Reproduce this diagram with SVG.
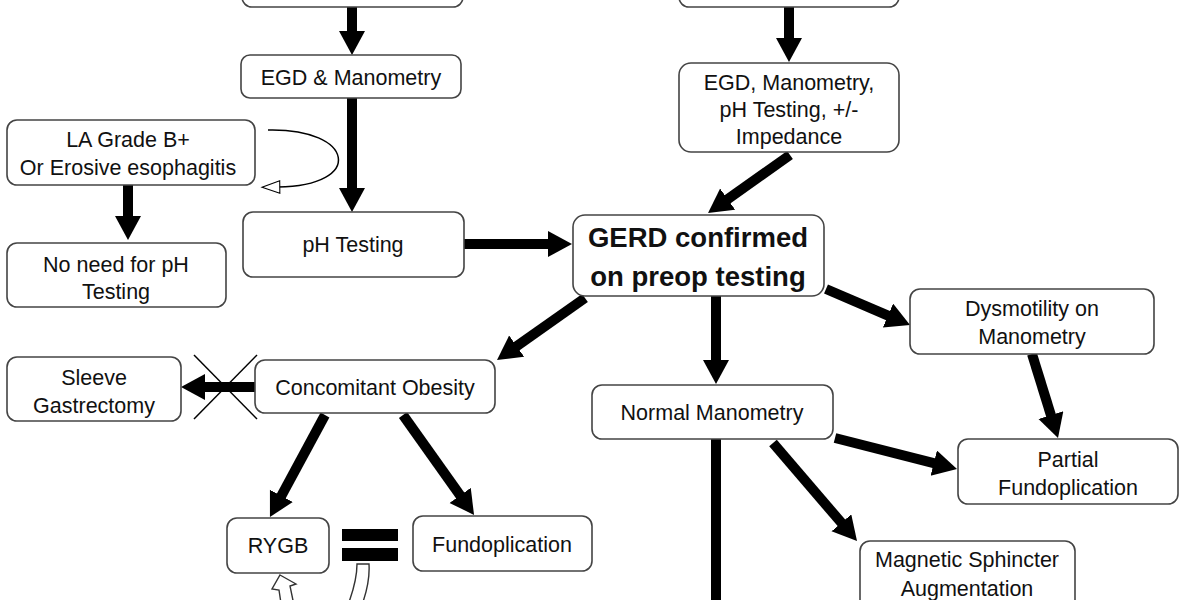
<svg xmlns="http://www.w3.org/2000/svg" width="1200" height="600" viewBox="0 0 1200 600">
<style>
.box{fill:#fff;stroke:#444;stroke-width:1.6}
.t{font-family:"Liberation Sans",Arial,sans-serif;font-size:21.5px;fill:#111;text-anchor:middle}
.b{font-family:"Liberation Sans",Arial,sans-serif;font-size:27.5px;font-weight:bold;fill:#111;text-anchor:middle}
.c{stroke:#000;stroke-width:10;fill:none}
.thin{stroke:#000;stroke-width:1.5;fill:none}
</style>
<defs>
<marker id="ah" markerUnits="userSpaceOnUse" markerWidth="26" markerHeight="28" refX="2" refY="13" orient="auto" viewBox="0 0 26 28">
<path d="M0,0 L24,13 L0,26 z" fill="#000"/>
</marker>
<marker id="oh" markerUnits="userSpaceOnUse" markerWidth="24" markerHeight="16" refX="2" refY="7" orient="auto" viewBox="-2 -2 24 18">
<path d="M0,0 L20,7 L0,14 z" fill="#fff" stroke="#000" stroke-width="1.2"/>
</marker>
</defs>
<rect width="1200" height="600" fill="#fff"/>
<g id="connectors">
<line class="c" x1="352" y1="5" x2="352" y2="33" marker-end="url(#ah)"/>
<line class="c" x1="789" y1="5" x2="789" y2="40" marker-end="url(#ah)"/>
<line class="c" x1="352" y1="98" x2="352" y2="190" marker-end="url(#ah)"/>
<line class="c" x1="128" y1="185" x2="128" y2="218" marker-end="url(#ah)"/>
<line class="c" x1="464" y1="244" x2="550" y2="244" marker-end="url(#ah)"/>
<line class="c" x1="790" y1="155" x2="726" y2="200.3" marker-end="url(#ah)"/>
<line class="c" x1="585" y1="298" x2="515" y2="347.3" marker-end="url(#ah)"/>
<line class="c" x1="716" y1="296" x2="716" y2="362" marker-end="url(#ah)"/>
<line class="c" x1="826" y1="289" x2="889.8" y2="316.3" marker-end="url(#ah)"/>
<line class="c" x1="1032" y1="354" x2="1051.5" y2="417" marker-end="url(#ah)"/>
<line class="c" x1="835" y1="438" x2="935.7" y2="463.6" marker-end="url(#ah)"/>
<line class="c" x1="773" y1="443" x2="842.7" y2="524.3" marker-end="url(#ah)"/>
<line class="c" x1="325" y1="415" x2="280.4" y2="497.6" marker-end="url(#ah)"/>
<line class="c" x1="403" y1="415" x2="461.3" y2="497" marker-end="url(#ah)"/>
<line class="c" x1="255" y1="387" x2="203" y2="387" marker-end="url(#ah)"/>
<line class="c" x1="716" y1="439" x2="716" y2="605"/>
<path class="thin" d="M268,130 C355,128 365,186 278,187" marker-end="url(#oh)"/>
<line class="thin" x1="194" y1="355" x2="257" y2="419"/>
<line class="thin" x1="257" y1="355" x2="194" y2="419"/>
<rect x="342" y="529" width="56" height="12" fill="#000"/>
<rect x="342" y="548" width="56" height="13" fill="#000"/>
<path d="M357,564 L369,564 C370,580 366,595 360,610 L346,610 C352,595 357,580 357,564 Z" fill="#fff" stroke="#333" stroke-width="1.4"/>
<path d="M280,575 L296,584 L290,586 L295,610 L282,610 L279,590 L272,589 Z" fill="#fff" stroke="#333" stroke-width="1.4"/>
</g>
<g id="n-top-left"><rect class="box" x="242" y="-40" width="221" height="47" rx="10"/></g>
<g id="n-top-right"><rect class="box" x="679" y="-40" width="220" height="47" rx="10"/></g>
<g id="n-egd-mano"><rect class="box" x="241" y="55" width="220" height="43" rx="9"/><text class="t" x="351" y="85">EGD &amp; Manometry</text></g>
<g id="n-egd-full"><rect class="box" x="679" y="63" width="220" height="89" rx="12"/><text class="t" x="789" y="90">EGD, Manometry,</text><text class="t" x="789" y="117">pH Testing, +/-</text><text class="t" x="789" y="144">Impedance</text></g>
<g id="n-la-grade"><rect class="box" x="7" y="120" width="248" height="65" rx="10"/><text class="t" x="128" y="147">LA Grade B+</text><text class="t" x="128" y="175">Or Erosive esophagitis</text></g>
<g id="n-no-need"><rect class="box" x="7" y="243" width="219" height="64" rx="10"/><text class="t" x="116" y="272">No need for pH</text><text class="t" x="116" y="299">Testing</text></g>
<g id="n-ph"><rect class="box" x="243" y="212" width="221" height="65" rx="10"/><text class="t" x="353" y="252">pH Testing</text></g>
<g id="n-gerd"><rect class="box" x="573" y="215" width="251" height="81" rx="12"/><text class="b" x="698" y="247">GERD confirmed</text><text class="b" x="698" y="286">on preop testing</text></g>
<g id="n-obesity"><rect class="box" x="255" y="360" width="240" height="53" rx="10"/><text class="t" x="375" y="395">Concomitant Obesity</text></g>
<g id="n-sleeve"><rect class="box" x="7" y="357" width="174" height="64" rx="10"/><text class="t" x="94" y="385">Sleeve</text><text class="t" x="94" y="413">Gastrectomy</text></g>
<g id="n-rygb"><rect class="box" x="227" y="518" width="102" height="55" rx="10"/><text class="t" x="278" y="553">RYGB</text></g>
<g id="n-fundo"><rect class="box" x="413" y="516" width="179" height="55" rx="10"/><text class="t" x="502" y="552">Fundoplication</text></g>
<g id="n-normal"><rect class="box" x="592" y="385" width="241" height="54" rx="10"/><text class="t" x="712" y="420">Normal Manometry</text></g>
<g id="n-dysmo"><rect class="box" x="910" y="289" width="244" height="65" rx="10"/><text class="t" x="1032" y="316">Dysmotility on</text><text class="t" x="1032" y="344">Manometry</text></g>
<g id="n-partial"><rect class="box" x="958" y="439" width="220" height="65" rx="10"/><text class="t" x="1068" y="467">Partial</text><text class="t" x="1068" y="495">Fundoplication</text></g>
<g id="n-magnetic"><rect class="box" x="860" y="541" width="215" height="80" rx="10"/><text class="t" x="967" y="567">Magnetic Sphincter</text><text class="t" x="967" y="596">Augmentation</text></g>
</svg>
